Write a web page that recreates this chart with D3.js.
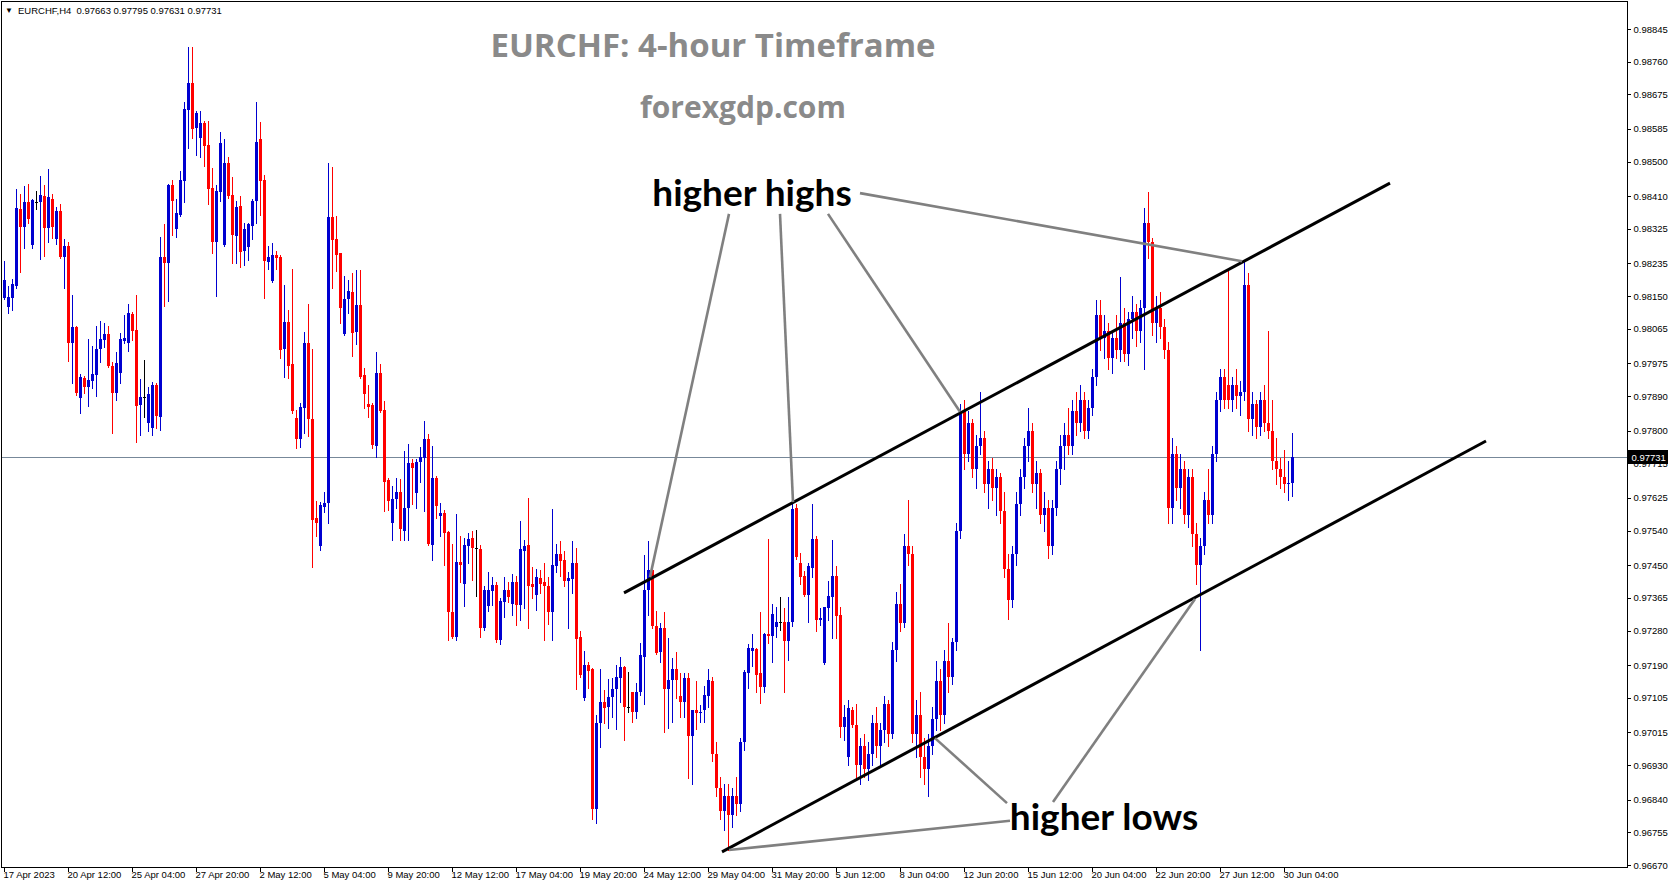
<!DOCTYPE html>
<html><head><meta charset="utf-8">
<script src="https://cdn.jsdelivr.net/npm/d3@7/dist/d3.min.js"></script>
<style>
html,body{margin:0;padding:0;background:#fff;overflow:hidden;}
svg{display:block;}
</style></head><body>
<svg id="chart" width="1673" height="888"></svg>
<script>
// ---------------- data ----------------
const symbolInfo = "EURCHF,H4";
const headerOHLC = [0.97663, 0.97795, 0.97631, 0.97731];
const lastPrice = 0.97731;
const priceTicks = [0.98845,0.98760,0.98675,0.98585,0.98500,0.98410,0.98325,0.98235,0.98150,0.98065,0.97975,0.97890,0.97800,0.97715,0.97625,0.97540,0.97450,0.97365,0.97280,0.97190,0.97105,0.97015,0.96930,0.96840,0.96755,0.96670];
const timeLabels = ["17 Apr 2023","20 Apr 12:00","25 Apr 04:00","27 Apr 20:00","2 May 12:00","5 May 04:00","9 May 20:00","12 May 12:00","17 May 04:00","19 May 20:00","24 May 12:00","29 May 04:00","31 May 20:00","5 Jun 12:00","8 Jun 04:00","12 Jun 20:00","15 Jun 12:00","20 Jun 04:00","22 Jun 20:00","27 Jun 12:00","30 Jun 04:00"];
const barsPerLabel = 16;

const open = [
0.98144,0.98123,0.98146,0.98177,0.98377,0.98331,0.98395,0.98283,0.98396,0.98396,
0.98410,0.98328,0.98404,0.98298,0.98371,0.98253,0.98280,0.98027,0.98069,0.97884,
0.97936,0.97914,0.97930,0.97945,0.98012,0.98036,0.98051,0.97968,0.97899,0.97951,
0.98033,0.98027,0.98103,0.98062,0.97867,0.97887,0.97820,0.97806,0.97920,0.97836,
0.98251,0.98237,0.98439,0.98325,0.98361,0.98450,0.98634,0.98705,0.98588,0.98562,
0.98601,0.98543,0.98431,0.98291,0.98421,0.98283,0.98497,0.98413,0.98307,0.98384,
0.98268,0.98278,0.98333,0.98398,0.98558,0.98452,0.98239,0.98190,0.98257,0.98252,
0.98012,0.98083,0.97973,0.97834,0.97779,0.97860,0.98029,0.97830,0.97574,0.97500,
0.97602,0.97613,0.98355,0.98298,0.98261,0.98051,0.98142,0.98160,0.98057,0.98127,
0.97945,0.97869,0.97867,0.97761,0.97951,0.97854,0.97672,0.97559,0.97621,0.97641,
0.97540,0.97600,0.97715,0.97639,0.97718,0.97730,0.97778,0.97503,0.97678,0.97577,
0.97587,0.97537,0.97327,0.97264,0.97459,0.97400,0.97501,0.97521,0.97494,0.97492,
0.97286,0.97345,0.97384,0.97399,0.97256,0.97355,0.97386,0.97349,0.97407,0.97347,
0.97487,0.97503,0.97401,0.97373,0.97416,0.97407,0.97396,0.97327,0.97449,0.97479,
0.97464,0.97410,0.97414,0.97457,0.97262,0.97104,0.97191,0.97180,0.96815,0.97039,
0.97094,0.97081,0.97107,0.97128,0.97156,0.97186,0.97081,0.97120,0.97067,0.97120,
0.97212,0.97386,0.97438,0.97291,0.97223,0.97286,0.97128,0.97152,0.97180,0.97110,
0.97093,0.97156,0.97006,0.97074,0.97065,0.97074,0.97110,0.97150,0.96960,0.96870,
0.96810,0.96850,0.96800,0.96850,0.96830,0.96990,0.97169,0.97228,0.97232,0.97169,
0.97133,0.97271,0.97267,0.97290,0.97301,0.97301,0.97254,0.97303,0.97598,0.97455,
0.97421,0.97373,0.97442,0.97519,0.97308,0.97195,0.97338,0.97367,0.97422,0.97321,
0.97029,0.96950,0.97074,0.97035,0.96930,0.96980,0.96920,0.96960,0.97040,0.96980,
0.97020,0.97090,0.97010,0.97230,0.97350,0.97300,0.97500,0.97480,0.97010,0.97060,
0.96950,0.96920,0.96980,0.97050,0.97150,0.97060,0.97200,0.97160,0.97250,0.97540,
0.97850,0.97740,0.97820,0.97700,0.97760,0.97780,0.97660,0.97700,0.97650,0.97680,
0.97590,0.97440,0.97360,0.97480,0.97610,0.97680,0.97760,0.97800,0.97660,0.97690,
0.97580,0.97600,0.97500,0.97600,0.97700,0.97760,0.97790,0.97760,0.97850,0.97820,
0.97880,0.97800,0.97860,0.97940,0.98100,0.98040,0.98060,0.97990,0.98040,0.98010,
0.98080,0.98000,0.98090,0.98110,0.98060,0.98120,0.98340,0.98290,0.98080,0.98120,
0.98070,0.98010,0.97600,0.97740,0.97650,0.97700,0.97580,0.97680,0.97530,0.97450,
0.97500,0.97620,0.97580,0.97740,0.97880,0.97940,0.97920,0.97880,0.97920,0.97890,
0.97900,0.98180,0.97830,0.97870,0.97810,0.97880,0.97820,0.97800,0.97720,0.97700,
0.97680,0.97660,0.97663];
const high = [
0.98242,0.98176,0.98194,0.98430,0.98416,0.98436,0.98443,0.98404,0.98423,0.98462,
0.98439,0.98481,0.98416,0.98383,0.98390,0.98299,0.98291,0.98153,0.98072,0.97947,
0.97942,0.98038,0.98019,0.98072,0.98085,0.98081,0.98072,0.97979,0.98005,0.98055,
0.98101,0.98129,0.98109,0.98153,0.97934,0.97984,0.97914,0.97927,0.97925,0.98305,
0.98337,0.98441,0.98452,0.98402,0.98476,0.98656,0.98799,0.98799,0.98631,0.98631,
0.98606,0.98606,0.98484,0.98439,0.98577,0.98559,0.98513,0.98461,0.98397,0.98411,
0.98341,0.98341,0.98402,0.98656,0.98603,0.98465,0.98280,0.98289,0.98268,0.98257,
0.98179,0.98114,0.98220,0.97854,0.97871,0.98057,0.98129,0.98012,0.97618,0.97615,
0.97641,0.98497,0.98487,0.98358,0.98263,0.98202,0.98192,0.98209,0.98218,0.98218,
0.97962,0.97919,0.97871,0.98005,0.97973,0.97878,0.97676,0.97657,0.97676,0.97674,
0.97747,0.97765,0.97725,0.97725,0.97758,0.97824,0.97792,0.97759,0.97681,0.97611,
0.97594,0.97540,0.97505,0.97583,0.97525,0.97520,0.97533,0.97539,0.97542,0.97503,
0.97395,0.97431,0.97418,0.97405,0.97364,0.97420,0.97405,0.97427,0.97422,0.97564,
0.97516,0.97626,0.97446,0.97440,0.97438,0.97457,0.97418,0.97597,0.97505,0.97513,
0.97486,0.97432,0.97513,0.97494,0.97279,0.97226,0.97199,0.97182,0.97061,0.97180,
0.97126,0.97154,0.97156,0.97191,0.97212,0.97188,0.97173,0.97121,0.97143,0.97247,
0.97477,0.97512,0.97440,0.97330,0.97299,0.97328,0.97260,0.97208,0.97224,0.97169,
0.97169,0.97169,0.97074,0.97150,0.97087,0.97136,0.97180,0.97160,0.96990,0.96900,
0.96880,0.96880,0.96870,0.96900,0.97000,0.97178,0.97245,0.97271,0.97234,0.97329,
0.97273,0.97519,0.97349,0.97340,0.97367,0.97338,0.97367,0.97620,0.97609,0.97481,
0.97435,0.97455,0.97610,0.97525,0.97338,0.97342,0.97408,0.97516,0.97448,0.97342,
0.97087,0.97100,0.97082,0.97090,0.97000,0.97010,0.96990,0.97060,0.97080,0.97040,
0.97110,0.97100,0.97250,0.97380,0.97400,0.97530,0.97620,0.97500,0.97100,0.97120,
0.97000,0.97010,0.97080,0.97200,0.97180,0.97230,0.97300,0.97260,0.97560,0.97870,
0.97880,0.97850,0.97830,0.97790,0.97900,0.97800,0.97720,0.97730,0.97700,0.97690,
0.97640,0.97480,0.97500,0.97640,0.97700,0.97780,0.97860,0.97820,0.97720,0.97700,
0.97640,0.97620,0.97620,0.97720,0.97790,0.97820,0.97860,0.97880,0.97900,0.97920,
0.97900,0.97880,0.97960,0.98140,0.98140,0.98100,0.98080,0.98060,0.98100,0.98200,
0.98120,0.98110,0.98150,0.98130,0.98140,0.98380,0.98420,0.98300,0.98150,0.98160,
0.98090,0.98030,0.97780,0.97760,0.97740,0.97720,0.97700,0.97700,0.97560,0.97520,
0.97640,0.97700,0.97760,0.97900,0.97960,0.97960,0.98220,0.97940,0.97960,0.97930,
0.98240,0.98210,0.97900,0.97880,0.97900,0.97920,0.98060,0.97880,0.97780,0.97730,
0.97750,0.97720,0.97795];
const low = [
0.98142,0.98105,0.98114,0.98170,0.98213,0.98276,0.98339,0.98276,0.98376,0.98246,
0.98255,0.98292,0.98302,0.98285,0.98248,0.98170,0.97982,0.97925,0.97893,0.97847,
0.97897,0.97865,0.97910,0.97891,0.97979,0.98017,0.97966,0.97795,0.97880,0.97923,
0.98027,0.98008,0.98036,0.97770,0.97790,0.97835,0.97800,0.97790,0.97806,0.97803,
0.98124,0.98138,0.98309,0.98304,0.98358,0.98395,0.98536,0.98562,0.98517,0.98513,
0.98489,0.98391,0.98263,0.98151,0.98398,0.98280,0.98406,0.98237,0.98235,0.98226,
0.98231,0.98245,0.98298,0.98341,0.98361,0.98146,0.98221,0.98188,0.98221,0.97988,
0.97940,0.97938,0.97845,0.97754,0.97757,0.97795,0.97787,0.97445,0.97526,0.97490,
0.97589,0.97561,0.98172,0.98215,0.98079,0.98050,0.98107,0.97995,0.98025,0.97936,
0.97858,0.97836,0.97754,0.97732,0.97849,0.97592,0.97594,0.97516,0.97600,0.97516,
0.97516,0.97516,0.97609,0.97600,0.97667,0.97590,0.97503,0.97464,0.97574,0.97525,
0.97451,0.97256,0.97260,0.97256,0.97405,0.97345,0.97455,0.97412,0.97370,0.97264,
0.97282,0.97332,0.97347,0.97250,0.97245,0.97314,0.97353,0.97321,0.97295,0.97308,
0.97338,0.97286,0.97364,0.97334,0.97377,0.97256,0.97297,0.97256,0.97433,0.97422,
0.97396,0.97286,0.97377,0.97128,0.97158,0.97100,0.97130,0.96790,0.96780,0.96977,
0.97039,0.97026,0.97056,0.97023,0.97095,0.96994,0.97068,0.97043,0.97052,0.97113,
0.97088,0.97321,0.97286,0.97219,0.97197,0.97015,0.97026,0.97043,0.97104,0.97056,
0.97056,0.96896,0.96880,0.97023,0.97043,0.97043,0.97082,0.96940,0.96850,0.96790,
0.96760,0.96710,0.96770,0.96800,0.96810,0.96970,0.97130,0.97188,0.97121,0.97091,
0.97121,0.97247,0.97199,0.97264,0.97282,0.97121,0.97204,0.97293,0.97465,0.97401,
0.97369,0.97303,0.97418,0.97280,0.97295,0.97193,0.97308,0.97260,0.97260,0.97004,
0.96996,0.96930,0.97030,0.96900,0.96880,0.96900,0.96890,0.96930,0.96950,0.96930,
0.96990,0.96980,0.97000,0.97200,0.97280,0.97290,0.97450,0.96990,0.96950,0.96900,
0.96880,0.96850,0.96960,0.97020,0.97020,0.97040,0.97120,0.97140,0.97230,0.97520,
0.97700,0.97720,0.97680,0.97650,0.97740,0.97640,0.97600,0.97620,0.97580,0.97560,
0.97420,0.97310,0.97340,0.97450,0.97580,0.97650,0.97720,0.97640,0.97600,0.97560,
0.97540,0.97470,0.97480,0.97580,0.97660,0.97700,0.97740,0.97740,0.97790,0.97800,
0.97780,0.97780,0.97840,0.97920,0.98010,0.97990,0.97960,0.97950,0.97990,0.97980,
0.97980,0.97970,0.98040,0.98020,0.98030,0.97960,0.98250,0.98050,0.98030,0.98040,
0.97990,0.97560,0.97560,0.97620,0.97600,0.97560,0.97550,0.97500,0.97400,0.97230,
0.97480,0.97560,0.97560,0.97720,0.97850,0.97860,0.97860,0.97850,0.97860,0.97840,
0.97880,0.97800,0.97790,0.97780,0.97790,0.97800,0.97780,0.97700,0.97660,0.97650,
0.97640,0.97620,0.97631];
const close = [
0.98192,0.98149,0.98181,0.98378,0.98331,0.98395,0.98351,0.98400,0.98396,0.98413,
0.98328,0.98407,0.98331,0.98371,0.98253,0.98280,0.98027,0.98069,0.97899,0.97939,
0.97914,0.97932,0.97947,0.98012,0.98038,0.98051,0.97968,0.97899,0.97975,0.98038,
0.98040,0.98107,0.98060,0.97865,0.97888,0.97887,0.97895,0.97920,0.97838,0.98253,
0.98235,0.98439,0.98398,0.98365,0.98452,0.98638,0.98705,0.98585,0.98627,0.98601,
0.98541,0.98429,0.98291,0.98423,0.98549,0.98497,0.98411,0.98310,0.98382,0.98265,
0.98324,0.98337,0.98397,0.98551,0.98450,0.98242,0.98252,0.98257,0.98249,0.98010,
0.98083,0.97969,0.97852,0.97779,0.97862,0.98029,0.97830,0.97568,0.97561,0.97607,
0.97613,0.98355,0.98296,0.98257,0.98120,0.98142,0.98163,0.98055,0.98127,0.97939,
0.97895,0.97862,0.97763,0.97951,0.97852,0.97667,0.97618,0.97622,0.97641,0.97543,
0.97600,0.97715,0.97704,0.97719,0.97732,0.97778,0.97505,0.97678,0.97603,0.97587,
0.97535,0.97327,0.97264,0.97459,0.97451,0.97503,0.97518,0.97494,0.97494,0.97286,
0.97386,0.97386,0.97399,0.97256,0.97358,0.97386,0.97368,0.97407,0.97347,0.97492,
0.97500,0.97397,0.97394,0.97420,0.97401,0.97397,0.97327,0.97451,0.97479,0.97462,
0.97410,0.97416,0.97457,0.97258,0.97165,0.97191,0.97176,0.96815,0.97039,0.97094,
0.97078,0.97107,0.97128,0.97159,0.97185,0.97081,0.97081,0.97068,0.97120,0.97217,
0.97386,0.97438,0.97291,0.97221,0.97286,0.97128,0.97152,0.97180,0.97152,0.97093,
0.97156,0.97006,0.97072,0.97065,0.97069,0.97111,0.97152,0.96960,0.96870,0.96810,
0.96850,0.96800,0.96850,0.96830,0.96990,0.97171,0.97234,0.97234,0.97165,0.97133,
0.97271,0.97267,0.97323,0.97302,0.97301,0.97254,0.97303,0.97597,0.97471,0.97418,
0.97373,0.97447,0.97519,0.97308,0.97312,0.97340,0.97369,0.97421,0.97317,0.97029,
0.97056,0.97078,0.97035,0.96930,0.96980,0.96920,0.96960,0.97040,0.96980,0.97020,
0.97090,0.97010,0.97230,0.97350,0.97300,0.97500,0.97480,0.97010,0.97060,0.96950,
0.96920,0.96980,0.97050,0.97150,0.97060,0.97200,0.97160,0.97250,0.97540,0.97850,
0.97740,0.97820,0.97700,0.97760,0.97780,0.97660,0.97700,0.97650,0.97680,0.97590,
0.97440,0.97360,0.97480,0.97610,0.97680,0.97760,0.97800,0.97660,0.97690,0.97580,
0.97600,0.97500,0.97600,0.97700,0.97760,0.97790,0.97760,0.97850,0.97820,0.97880,
0.97800,0.97860,0.97940,0.98100,0.98040,0.98060,0.97990,0.98040,0.98010,0.98080,
0.98000,0.98090,0.98110,0.98060,0.98120,0.98340,0.98290,0.98080,0.98120,0.98070,
0.98010,0.97600,0.97740,0.97650,0.97700,0.97580,0.97680,0.97530,0.97450,0.97500,
0.97620,0.97580,0.97740,0.97880,0.97940,0.97880,0.97880,0.97920,0.97890,0.97900,
0.98180,0.97830,0.97870,0.97810,0.97880,0.97820,0.97800,0.97720,0.97700,0.97680,
0.97660,0.97663,0.97731];

// annotation geometry in data space: [bar index, price]
const channelLines = [
  [[155, 0.97378], [346.5, 0.98444]],
  [[179.5, 0.96704], [370.5, 0.97773]]
];
const pointerLines = [
  [[181.25, 0.98364], [161.5, 0.97419]],
  [[194, 0.98364], [197.25, 0.97614]],
  [[206, 0.98364], [239, 0.97849]],
  [[214, 0.98418], [309.5, 0.98241]],
  [[250.75, 0.96831], [232.75, 0.97000]],
  [[262.25, 0.96834], [297.75, 0.97362]],
  [[251.5, 0.96785], [181.25, 0.96709]]
];
const notes = [
  {text: "higher highs", at: [187.0, 0.98421]},
  {text: "higher lows", at: [275.0, 0.96800]}
];
const titleText = "EURCHF: 4-hour Timeframe";
const subtitleText = "forexgdp.com";

// ---------------- drawing ----------------
const svg = d3.select("#chart");
const frameL = 1.5, frameT = 1.5, frameR = 1627.5, frameB = 867.5;
const x = d3.scaleLinear().domain([-1, 405.875]).range([0, 1627.5]);
const y = d3.scaleLinear().domain([0.96670, 0.98845]).range([865, 29]);
const axisFont = "'Liberation Sans', Arial, sans-serif";

svg.append("rect").attr("width", 1673).attr("height", 888).attr("fill", "#fff");

// current price line
svg.append("line")
  .attr("x1", frameL).attr("x2", frameR)
  .attr("y1", Math.round(y(lastPrice)) + 0.5).attr("y2", Math.round(y(lastPrice)) + 0.5)
  .attr("stroke", "#778899").attr("stroke-width", 1);

// candles
const bars = d3.range(open.length).map(i => ({i, o: open[i], h: high[i], l: low[i], c: close[i]}));
const colorOf = d => d.c > d.o ? "#0000d0" : (d.c < d.o ? "#ff0000" : "#000000");
const cg = svg.append("g").attr("shape-rendering", "crispEdges");
cg.selectAll("line.wick").data(bars).join("line")
  .attr("class", "wick")
  .attr("x1", d => Math.round(x(d.i)) + 0.5).attr("x2", d => Math.round(x(d.i)) + 0.5)
  .attr("y1", d => Math.round(y(d.h))).attr("y2", d => Math.round(y(d.l)) + 1)
  .attr("stroke", colorOf).attr("stroke-width", 1);
cg.selectAll("rect.body").data(bars).join("rect")
  .attr("class", "body")
  .attr("x", d => Math.round(x(d.i)) - 1)
  .attr("width", 3)
  .attr("y", d => Math.round(y(Math.max(d.o, d.c))))
  .attr("height", d => Math.max(1, Math.round(y(Math.min(d.o, d.c))) - Math.round(y(Math.max(d.o, d.c)))))
  .attr("fill", colorOf);

// channel lines
const line = d3.line().x(p => x(p[0])).y(p => y(p[1]));
svg.append("g").selectAll("path").data(channelLines).join("path")
  .attr("d", line).attr("stroke", "#000").attr("stroke-width", 3).attr("fill", "none");
svg.append("g").selectAll("path").data(pointerLines).join("path")
  .attr("d", line).attr("stroke", "#808080").attr("stroke-width", 2.6).attr("fill", "none");

// notes
svg.append("g").selectAll("text").data(notes).join("text")
  .attr("x", d => x(d.at[0])).attr("y", d => y(d.at[1]))
  .attr("text-anchor", "middle").attr("dominant-baseline", "central")
  .attr("font-family", "Lato, 'Open Sans', sans-serif").attr("font-weight", 700)
  .attr("font-size", 37).attr("fill", "#000")
  .text(d => d.text);

// title / subtitle
svg.append("text").attr("x", 713).attr("y", 44)
  .attr("text-anchor", "middle").attr("dominant-baseline", "central")
  .attr("font-family", "'Open Sans', sans-serif").attr("font-weight", 700)
  .attr("font-size", 33).attr("fill", "#8a8a8a").text(titleText);
svg.append("text").attr("x", 743).attr("y", 106)
  .attr("text-anchor", "middle").attr("dominant-baseline", "central")
  .attr("font-family", "'Open Sans', sans-serif").attr("font-weight", 700)
  .attr("font-size", 30).attr("fill", "#8a8a8a").text(subtitleText);

// frame
svg.append("rect").attr("x", frameL).attr("y", frameT)
  .attr("width", frameR - frameL).attr("height", frameB - frameT)
  .attr("fill", "none").attr("stroke", "#000").attr("stroke-width", 1)
  .attr("shape-rendering", "crispEdges");

// price axis
const yAxis = d3.axisRight(y).tickValues(priceTicks).tickSize(3).tickPadding(3)
  .tickFormat(d3.format(".5f"));
const gy = svg.append("g").attr("transform", `translate(${frameR},0)`).call(yAxis);
gy.select(".domain").remove();
gy.selectAll("text").attr("font-family", axisFont).attr("font-size", 9.5).attr("fill", "#000");
gy.selectAll("line").attr("stroke", "#000").attr("shape-rendering", "crispEdges");

// time axis
const labelBars = timeLabels.map((_, k) => k * barsPerLabel);
const xAxis = d3.axisBottom(x).tickValues(labelBars).tickSize(4).tickPadding(2)
  .tickFormat((d, k) => timeLabels[k]);
const gx = svg.append("g").attr("transform", `translate(0,${frameB})`).call(xAxis);
gx.select(".domain").remove();
gx.selectAll("text").attr("font-family", axisFont).attr("font-size", 9.5).attr("fill", "#000")
  .attr("text-anchor", "start").attr("dx", "-1").attr("dy", "0.5em");
gx.selectAll("line").attr("stroke", "#000").attr("shape-rendering", "crispEdges");

// last price marker
const ly = Math.round(y(lastPrice));
svg.append("rect").attr("x", frameR + 0.5).attr("y", ly - 7).attr("width", 40).attr("height", 14)
  .attr("fill", "#000");
svg.append("text").attr("x", frameR + 4).attr("y", ly).attr("dominant-baseline", "central")
  .attr("font-family", axisFont).attr("font-size", 9.5).attr("fill", "#fff")
  .text(d3.format(".5f")(lastPrice));

// header
svg.append("text").attr("x", 5).attr("y", 13)
  .attr("font-family", axisFont).attr("font-size", 8).attr("fill", "#000").text("\u25BC");
svg.append("text").attr("x", 18).attr("y", 14).attr("xml:space", "preserve")
  .style("white-space", "pre")
  .attr("font-family", axisFont).attr("font-size", 9.5).attr("fill", "#000")
  .text(symbolInfo + "  " + headerOHLC.map(d3.format(".5f")).join(" "));
</script>
</body></html>
